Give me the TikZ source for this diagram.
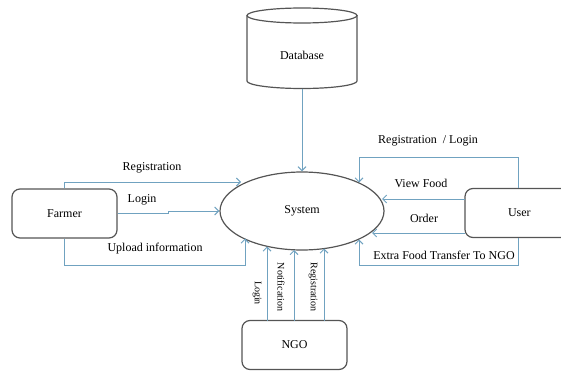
\documentclass[tikz,border=0pt]{standalone}
\usepackage{fontspec}
\setmainfont{Liberation Serif}
\usetikzlibrary{shapes.geometric,arrows.meta}
\definecolor{flow}{RGB}{112,162,192}
\definecolor{edge}{RGB}{85,85,85}
\tikzset{
  boxshape/.style={draw=edge, line width=1.2bp, rounded corners=8bp, minimum width=105bp, minimum height=49bp, inner sep=0, font=\fontsize{12bp}{14bp}\selectfont},
  flowline/.style={draw=flow, line width=1bp, -{Straight Barb[length=4bp,width=8bp]}},
  lbl/.style={font=\fontsize{12bp}{14bp}\selectfont, inner sep=0},
  vlbl/.style={font=\fontsize{10bp}{12bp}\selectfont, inner sep=0, rotate=-90}
}
\begin{document}
\begin{tikzpicture}[x=1bp,y=1bp]
\useasboundingbox (0,0) rectangle (561,370);
\clip (0,0) rectangle (561,370);
% database cylinder
\node[minimum width=110bp, minimum height=80.5bp, inner sep=0] (db) at (302,321.75) {};
\draw[draw=edge, line width=1.2bp] (302,354.5) ellipse [x radius=55, y radius=7.5];
\draw[draw=edge, line width=1.2bp] (247,354.5) -- (247,289) arc[start angle=180, end angle=360, x radius=55, y radius=7.5] -- (357,354.5);
\node[lbl] (dblabel) at (302,315) {Database};
% system
\node[ellipse, draw=edge, line width=1.2bp, minimum width=164bp, minimum height=78bp, inner sep=0, font=\fontsize{12bp}{14bp}\selectfont] (sys) at (302,159) {System};
% entities
\node[boxshape] (farmer) at (64.5,156.5) {Farmer};
\node[boxshape, minimum width=110bp, text width=104bp, align=left] (user) at (520,157) {\hspace{40bp}User};
\node[boxshape] (ngo) at (294.5,25) {NGO};
% connector end coordinates
\coordinate (fr1) at (64.5,188);
\coordinate (fr2) at (241,188);
\coordinate (fl1) at (168,156.5);
\coordinate (fl2) at (168,159);
\coordinate (fu1) at (64.5,105);
\coordinate (fu2) at (245,105);
\coordinate (fu3) at (245,131.5);
\coordinate (ur1) at (518,213);
\coordinate (ur2) at (359,213);
\coordinate (ur3) at (359,187.5);
\coordinate (uv1) at (465,171);
\coordinate (uv2) at (382,171);
\coordinate (uo1) at (465,137);
\coordinate (uo2) at (372,137);
\coordinate (ue1) at (518,105);
\coordinate (ue2) at (359,105);
\coordinate (ue3) at (359,130.5);
\coordinate (nl1) at (267,49.5);
\coordinate (nl2) at (267,123.5);
\coordinate (nn1) at (294,49.5);
\coordinate (nn2) at (294,120);
\coordinate (ng1) at (324,49.5);
\coordinate (ng2) at (324,121.5);
% connectors
\draw[flowline] (db.south) -- (sys.north);
\draw[flowline] (farmer.north) -- (fr1) -- (fr2);
\draw[flowline] (farmer.east) -- (fl1) -- (fl2) -- (sys.west);
\draw[flowline] (farmer.south) -- (fu1) -- (fu2) -- (fu3);
\draw[flowline] (ur1 |- user.north) -- (ur1) -- (ur2) -- (ur3);
\draw[flowline] (uv1) -- (uv2);
\draw[flowline] (uo1) -- (uo2);
\draw[flowline] (ue1 |- user.south) -- (ue1) -- (ue2) -- (ue3);
\draw[flowline] (nl1) -- (nl2);
\draw[flowline] (nn1) -- (nn2);
\draw[flowline] (ng1) -- (ng2);
% labels
\node[lbl] (tfr) at (152,202) {Registration};
\node[lbl] (tfl) at (142,170) {Login};
\node[lbl] (tfu) at (155,121) {Upload information};
\node[lbl] (tur) at (428,229) {Registration~ / Login};
\node[lbl] (tuv) at (421,187) {View Food};
\node[lbl] (tuo) at (424,152) {Order};
\node[lbl] (tue) at (444,115) {Extra Food Transfer To NGO};
\node[vlbl] (tnl) at (257,77) {Login};
\node[vlbl] (tnn) at (281,83) {Notification};
\node[vlbl] (tng) at (313,83) {Registration};
\end{tikzpicture}
\end{document}
